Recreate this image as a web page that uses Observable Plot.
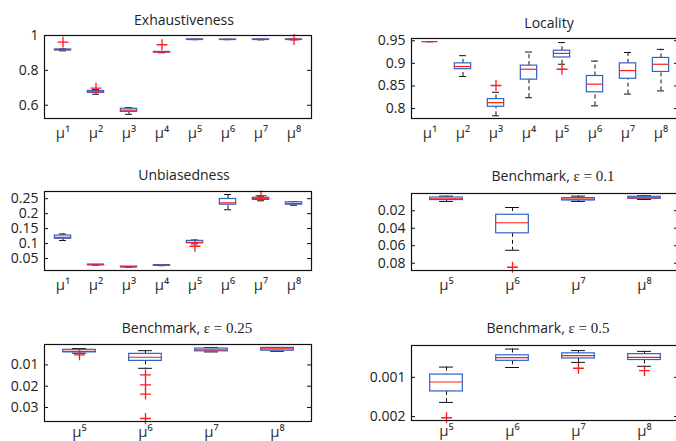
<!DOCTYPE html>
<html><head><meta charset="utf-8">
<script src="https://cdn.jsdelivr.net/npm/d3@7"></script>
<script src="https://cdn.jsdelivr.net/npm/@observablehq/plot@0.6"></script>
<style>
html,body{margin:0;padding:0;background:#fff;}
body{width:676px;height:441px;overflow:hidden;position:relative;font-family:"Open Sans",sans-serif;}
.panel{position:absolute;}
.title{position:absolute;font-size:14px;line-height:1;white-space:nowrap;transform:translateX(-50%);color:#222;}
.title .s{font-family:"Liberation Serif",serif;font-size:15px;}
</style></head>
<body>
<script>
// ---------- categories ----------
const catsAll = ["μ¹","μ²","μ³","μ⁴","μ⁵","μ⁶","μ⁷","μ⁸"];
const catsBench = ["μ⁵","μ⁶","μ⁷","μ⁸"];

// ---------- Exhaustiveness ----------
const exhLow  = [0.912, 0.663, 0.548, 0.901, 0.976, 0.976, 0.975, 0.975];
const exhQ1   = [0.915, 0.671, 0.562, 0.903, 0.976, 0.976, 0.976, 0.976];
const exhMed  = [0.918, 0.677, 0.572, 0.905, 0.977, 0.977, 0.977, 0.977];
const exhQ3   = [0.920, 0.682, 0.580, 0.906, 0.978, 0.977, 0.978, 0.978];
const exhHigh = [0.923, 0.690, 0.586, 0.907, 0.978, 0.978, 0.979, 0.979];
const exhOutIdx = [0, 1, 3, 7];
const exhOutVal = [0.962, 0.698, 0.947, 0.977];
const exhTicks = [0.6, 0.8, 1];

// ---------- Locality ----------
const locLow  = [0.948, 0.871, 0.784, 0.824, 0.898, 0.806, 0.832, 0.839];
const locQ1   = [0.948, 0.887, 0.804, 0.864, 0.913, 0.836, 0.866, 0.881];
const locMed  = [0.948, 0.893, 0.813, 0.887, 0.922, 0.854, 0.884, 0.898];
const locQ3   = [0.948, 0.900, 0.821, 0.895, 0.928, 0.872, 0.900, 0.912];
const locHigh = [0.948, 0.917, 0.836, 0.925, 0.946, 0.905, 0.924, 0.931];
const locOutIdx = [2, 4];
const locOutVal = [0.851, 0.887];
const locTicks = [0.8, 0.85, 0.9, 0.95];

// ---------- Unbiasedness ----------
const unbLow  = [0.110, 0.028, 0.021, 0.026, 0.099, 0.213, 0.243, 0.228];
const unbQ1   = [0.116, 0.028, 0.021, 0.026, 0.101, 0.230, 0.246, 0.230];
const unbMed  = [0.121, 0.029, 0.022, 0.027, 0.104, 0.236, 0.250, 0.234];
const unbQ3   = [0.127, 0.030, 0.023, 0.028, 0.109, 0.249, 0.253, 0.238];
const unbHigh = [0.132, 0.030, 0.023, 0.028, 0.112, 0.264, 0.258, 0.240];
const unbOutIdx = [4, 6];
const unbOutVal = [0.091, 0.260];
const unbTicks = [0.05, 0.1, 0.15, 0.2, 0.25];

// ---------- Benchmark, eps = 0.1 ----------
const b1Low  = [0.0033, 0.0163, 0.0033, 0.0029];
const b1Q1   = [0.0049, 0.0246, 0.0056, 0.0041];
const b1Med  = [0.0063, 0.0337, 0.0067, 0.0052];
const b1Q3   = [0.0078, 0.0458, 0.0083, 0.0063];
const b1High = [0.0094, 0.0652, 0.0094, 0.0071];
const b1OutIdx = [1];
const b1OutVal = [0.0846];
const b1Ticks = [0.02, 0.04, 0.06, 0.08];

// ---------- Benchmark, eps = 0.25 ----------
const b2Low  = [0.0023, 0.0033, 0.0018, 0.0018];
const b2Q1   = [0.0029, 0.0048, 0.0023, 0.0020];
const b2Med  = [0.0036, 0.0064, 0.0029, 0.0025];
const b2Q3   = [0.0041, 0.0081, 0.0036, 0.0033];
const b2High = [0.0045, 0.0116, 0.0039, 0.0036];
const b2OutIdx = [0, 1, 1, 1, 1];
const b2OutVal = [0.0053, 0.0147, 0.0194, 0.0237, 0.0352];
const b2Ticks = [0.01, 0.02, 0.03];

// ---------- Benchmark, eps = 0.5 ----------
const b3Low  = [0.00074, 0.00028, 0.00032, 0.00034];
const b3Q1   = [0.00093, 0.00044, 0.00039, 0.00041];
const b3Med  = [0.00112, 0.00050, 0.00045, 0.00049];
const b3Q3   = [0.00136, 0.00058, 0.00052, 0.00056];
const b3High = [0.00164, 0.00075, 0.00062, 0.00072];
const b3OutIdx = [0, 2, 3];
const b3OutVal = [0.00203, 0.00077, 0.00083];
const b3Ticks = [0.001, 0.002];

const BLUE = "#2f62c4", RED = "#ff1a1a";

function panel(o) {
  const rows = o.cats.map((c, i) => ({c, low: o.low[i], q1: o.q1[i], med: o.med[i], q3: o.q3[i], high: o.high[i]}));
  const outs = o.outIdx.map((k, j) => ({c: o.cats[k], v: o.outVal[j]}));
  const fw = o.frameRight - o.frameLeft;
  const bw = fw / o.cats.length;
  const mt = 10, mb = o.mb ?? 26;
  const h = Math.round(o.frameBottom - o.frameTop + mt + mb);
  const plot = Plot.plot({
    width: o.svgWidth, height: h,
    marginLeft: o.frameLeft - o.left,
    marginRight: o.svgWidth - (o.frameRight - o.left),
    marginTop: mt, marginBottom: mb,
    x: {type: "band", domain: o.cats, padding: 0, label: null},
    y: {domain: o.domain, reverse: !!o.reverse, label: null},
    style: {fontFamily: "'Open Sans', sans-serif", fontSize: "14px", color: "#222", background: "transparent", overflow: "visible"},
    marks: [
      Plot.ruleX(rows, {x: "c", y1: "low", y2: "q1", stroke: "#111", strokeDasharray: "4,3"}),
      Plot.ruleX(rows, {x: "c", y1: "q3", y2: "high", stroke: "#111", strokeDasharray: "4,3"}),
      Plot.tickY(rows, {x: "c", y: "low", stroke: "#111", insetLeft: bw * 0.39, insetRight: bw * 0.39}),
      Plot.tickY(rows, {x: "c", y: "high", stroke: "#111", insetLeft: bw * 0.39, insetRight: bw * 0.39}),
      Plot.barY(rows, {x: "c", y1: "q1", y2: "q3", fill: "white", stroke: BLUE, strokeWidth: 1.2, insetLeft: bw * 0.25, insetRight: bw * 0.25}),
      Plot.tickY(rows, {x: "c", y: "med", stroke: RED, strokeWidth: 1.2, insetLeft: bw * 0.25, insetRight: bw * 0.25}),
      Plot.dot(outs, {x: "c", y: "v", symbol: "plus", stroke: RED, strokeWidth: 1.3, r: 3.6}),
      Plot.tickY(o.ticks, {y: d => d, stroke: "#111", insetRight: fw - 4}),
      Plot.tickY(o.ticks, {y: d => d, stroke: "#111", insetLeft: fw - 4}),
      Plot.frame({stroke: "#111", strokeWidth: 1.2}),
      Plot.axisY({ticks: o.ticks, tickFormat: d => String(d), tickSize: 0, tickPadding: 6, fill: "#222"}),
      Plot.axisX({tickSize: 0, tickPadding: o.xPad ?? 9, fontSize: 15, fill: "#333"})
    ]
  });
  plot.classList.add("panel");
  plot.style.left = o.left + "px";
  plot.style.top = (o.frameTop - mt) + "px";
  document.body.appendChild(plot);

  const t = document.createElement("div");
  t.className = "title";
  t.innerHTML = o.title;
  t.style.left = o.titleX + "px";
  t.style.top = (o.titleY - 7) + "px";
  document.body.appendChild(t);
}

const L = {left: 0, svgWidth: 340, frameLeft: 44, frameRight: 311};
const R = {left: 336, svgWidth: 360, frameLeft: 411, frameRight: 678};

panel({...L, cats: catsAll, low: exhLow, q1: exhQ1, med: exhMed, q3: exhQ3, high: exhHigh,
  outIdx: exhOutIdx, outVal: exhOutVal, ticks: exhTicks, domain: [0.524, 1],
  frameTop: 35, frameBottom: 118, title: "Exhaustiveness", titleX: 184, titleY: 20});
panel({...R, cats: catsAll, low: locLow, q1: locQ1, med: locMed, q3: locQ3, high: locHigh,
  outIdx: locOutIdx, outVal: locOutVal, ticks: locTicks, domain: [0.778, 0.955],
  frameTop: 38, frameBottom: 118, title: "Locality", titleX: 549, titleY: 23});
panel({...L, cats: catsAll, low: unbLow, q1: unbQ1, med: unbMed, q3: unbQ3, high: unbHigh,
  outIdx: unbOutIdx, outVal: unbOutVal, ticks: unbTicks, domain: [0.01, 0.274],
  frameTop: 191, frameBottom: 270, title: "Unbiasedness", titleX: 184, titleY: 175});
panel({...R, cats: catsBench, low: b1Low, q1: b1Q1, med: b1Med, q3: b1Q3, high: b1High,
  outIdx: b1OutIdx, outVal: b1OutVal, ticks: b1Ticks, domain: [0.0003, 0.0883], reverse: true,
  frameTop: 193, frameBottom: 270, title: 'Benchmark, <span class="s">ε = 0.1</span>', titleX: 553, titleY: 176});
panel({...L, cats: catsBench, low: b2Low, q1: b2Q1, med: b2Med, q3: b2Q3, high: b2High,
  outIdx: b2OutIdx, outVal: b2OutVal, ticks: b2Ticks, domain: [0.0004, 0.0366], reverse: true,
  frameTop: 344, frameBottom: 421, xPad: 5, mb: 20, title: 'Benchmark, <span class="s">ε = 0.25</span>', titleX: 187, titleY: 328});
panel({...R, cats: catsBench, low: b3Low, q1: b3Q1, med: b3Med, q3: b3Q3, high: b3High,
  outIdx: b3OutIdx, outVal: b3OutVal, ticks: b3Ticks, domain: [0.00019, 0.0021], reverse: true,
  frameTop: 345, frameBottom: 420, xPad: 5, mb: 21, title: 'Benchmark, <span class="s">ε = 0.5</span>', titleX: 548, titleY: 328});
</script>
</body></html>
